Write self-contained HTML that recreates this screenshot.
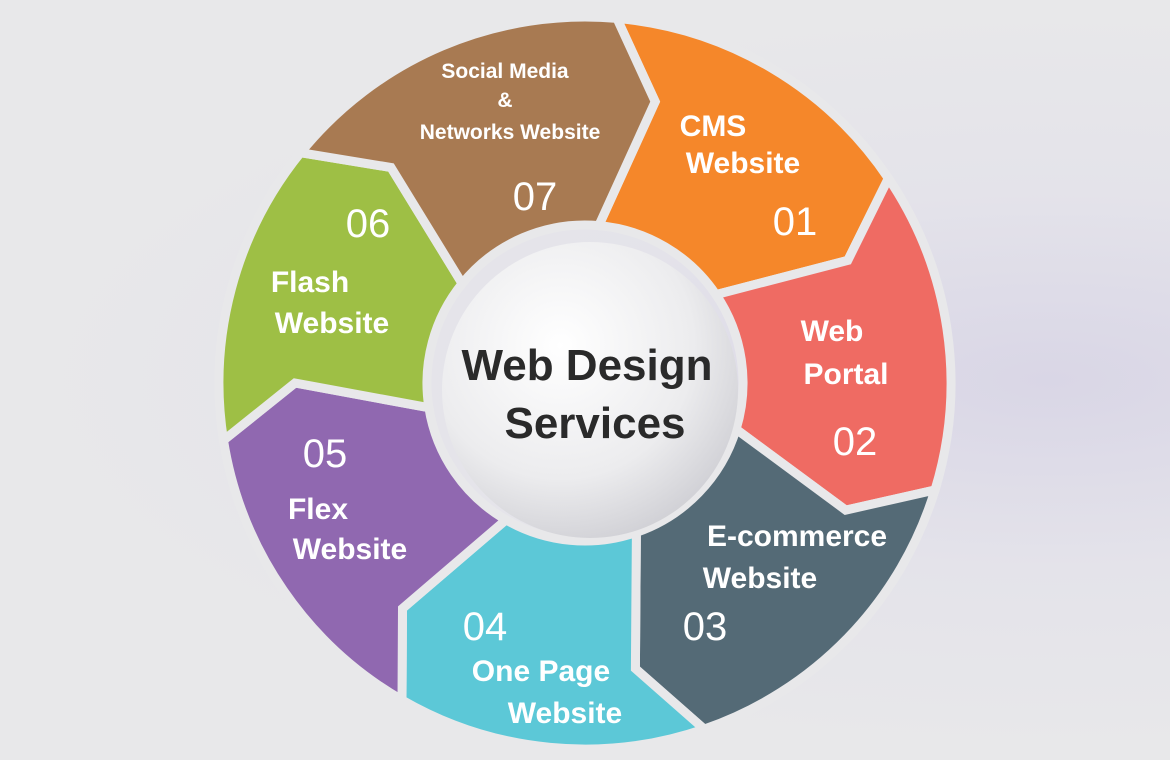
<!DOCTYPE html>
<html><head><meta charset="utf-8">
<style>
html,body{margin:0;padding:0;width:1170px;height:760px;overflow:hidden;}
body{background:radial-gradient(ellipse at 1050px 380px,#d9d6e6 0%,#e4e3ea 35%,#e8e8ea 70%);}
svg{display:block}
text{font-family:"Liberation Sans",sans-serif;fill:#fff}
.b{font-weight:bold;font-size:30px}
.n{font-size:40px}
.s{font-weight:bold;font-size:21px}
</style></head><body>
<svg id="s" width="1170" height="760" viewBox="0 0 1170 760">
<defs>
<radialGradient id="cg" cx="0.4" cy="0.35" r="0.75">
<stop offset="0" stop-color="#ffffff"/><stop offset="0.6" stop-color="#ececee"/><stop offset="1" stop-color="#c9c9cf"/>
</radialGradient>
</defs>
<g id="segs"></g>
<circle cx="590" cy="390" r="148" fill="url(#cg)"/>
<text x="587" y="380" text-anchor="middle" style="font-weight:bold;font-size:44px;fill:#2a2a2a">Web Design</text>
<text x="595" y="438" text-anchor="middle" style="font-weight:bold;font-size:44px;fill:#2a2a2a">Services</text>

<text class="s" x="505" y="78" text-anchor="middle">Social Media</text>
<text class="s" x="505" y="107" text-anchor="middle">&amp;</text>
<text class="s" x="510" y="139" text-anchor="middle">Networks Website</text>
<text class="n" x="535" y="210" text-anchor="middle">07</text>

<text class="b" x="713" y="136" text-anchor="middle">CMS</text>
<text class="b" x="743" y="173" text-anchor="middle">Website</text>
<text class="n" x="795" y="235" text-anchor="middle">01</text>

<text class="b" x="832" y="341" text-anchor="middle">Web</text>
<text class="b" x="846" y="384" text-anchor="middle">Portal</text>
<text class="n" x="855" y="455" text-anchor="middle">02</text>

<text class="b" x="797" y="546" text-anchor="middle">E-commerce</text>
<text class="b" x="760" y="588" text-anchor="middle">Website</text>
<text class="n" x="705" y="640" text-anchor="middle">03</text>

<text class="n" x="485" y="640" text-anchor="middle">04</text>
<text class="b" x="541" y="681" text-anchor="middle">One Page</text>
<text class="b" x="565" y="723" text-anchor="middle">Website</text>

<text class="n" x="325" y="467" text-anchor="middle">05</text>
<text class="b" x="318" y="519" text-anchor="middle">Flex</text>
<text class="b" x="350" y="559" text-anchor="middle">Website</text>

<text class="n" x="368" y="237" text-anchor="middle">06</text>
<text class="b" x="310" y="292" text-anchor="middle">Flash</text>
<text class="b" x="332" y="333" text-anchor="middle">Website</text>
</svg>
<script>
(function(){
var cx=585,cy=383,R=366,r=158,Rm=290,d=9;
var cols=["#f5872a","#ef6b63","#546a76","#5cc8d7","#9068b0","#9ebf45","#a87a52"];
var b=[5,56,107,161,210,261,309,365];
function P(rad,a){a=a*Math.PI/180;return (cx+rad*Math.sin(a)).toFixed(1)+","+(cy-rad*Math.cos(a)).toFixed(1);}
var g=document.getElementById("segs"),h="";
for(var i=0;i<7;i++){
 var s=b[i],e=b[i+1];
 var p="M"+P(R,s)+" A"+R+","+R+" 0 0 1 "+P(R,e)+" L"+P(Rm,e+d)+" L"+P(r,e)+
 " A"+r+","+r+" 0 0 0 "+P(r,s)+" L"+P(Rm,s+d)+" Z";
 h+='<path d="'+p+'" fill="'+cols[i]+'" stroke="#e8e8ea" stroke-width="9" stroke-linejoin="miter"/>';
}
g.innerHTML=h;
})();
</script>
</body></html>
